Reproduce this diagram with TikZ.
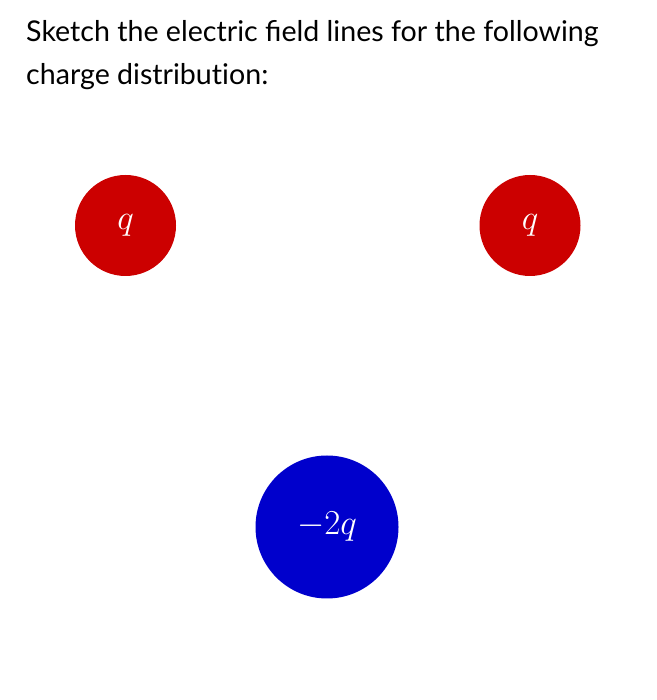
\documentclass[tikz,border=0pt]{standalone}
\usepackage{fix-cm}
\usepackage{fontspec}
\setmainfont[Ligatures=NoCommon]{Lato}
\usepackage{tikz}
\usetikzlibrary{shapes}
\definecolor{chargered}{RGB}{204,0,0}
\definecolor{chargeblue}{RGB}{0,0,204}
\tikzstyle{title} = [anchor=base west, inner sep=0pt, font=\fontsize{28.6}{42}\selectfont]
\tikzstyle{poscharge} = [circle, minimum size=101pt, inner sep=0pt, fill=chargered, text=white, font=\fontsize{35}{35}\selectfont]
\tikzstyle{negcharge} = [circle, minimum size=143pt, inner sep=0pt, fill=chargeblue, text=white, font=\fontsize{35}{35}\selectfont]

\begin{document}
\begin{tikzpicture}[x=1pt, y=1pt]
    \useasboundingbox (0,0) rectangle (656,700);
    \node (lineone) [title] at (26,658) {Sketch the electric ﬁeld lines for the following};
    \node (linetwo) [title] at (26,615) {charge distribution:};
    \node (qleft) [poscharge] at (125.5,474.5) {$q$};
    \node (qright) [poscharge] at (530,474.5) {$q$};
    \node (qneg) [negcharge] at (327,173) {$-2q$};
  \end{tikzpicture}
\end{document}
